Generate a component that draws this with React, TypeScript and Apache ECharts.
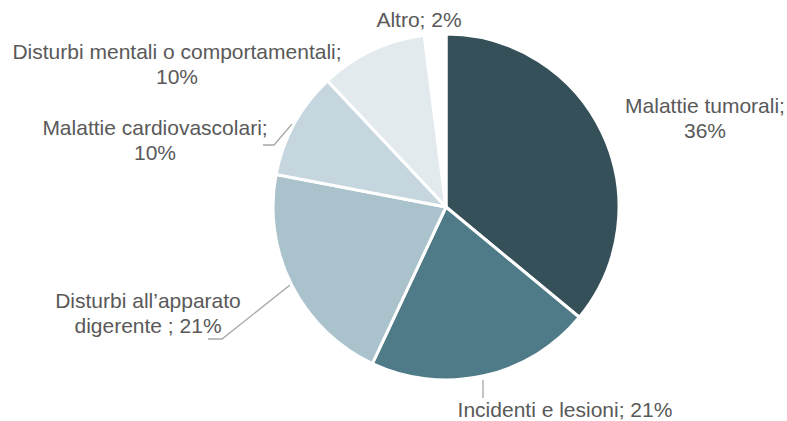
import React, { useEffect, useRef } from "react";
import * as echarts from "echarts";

const categories = [
  "Malattie tumorali",
  "Incidenti e lesioni",
  "Disturbi all’apparato digerente",
  "Malattie cardiovascolari",
  "Disturbi mentali o comportamentali",
  "Altro",
];
const values = [36, 21, 21, 10, 10, 2];
const labelTexts = [
  "Malattie tumorali;\n36%",
  "Incidenti e lesioni; 21%",
  "Disturbi all’apparato\ndigerente ; 21%",
  "Malattie cardiovascolari;\n10%",
  "Disturbi mentali o comportamentali;\n10%",
  "Altro; 2%",
];
const colors = ["#36505A", "#4F7A87", "#AAC2CC", "#C6D6DE", "#E2EAEE", "#FFFFFF"];

const labelPos: { x: number; y: number; line?: number[][] }[] = [
  { x: 705, y: 118 },
  { x: 565, y: 409, line: [[483, 380], [483, 398]] },
  { x: 148, y: 313, line: [[208, 339], [222, 339], [290, 285]] },
  { x: 155, y: 140, line: [[263, 145], [274, 145], [292, 124]] },
  { x: 177, y: 64 },
  { x: 419, y: 19 },
];

export default function App() {
  const ref = useRef<HTMLDivElement>(null);
  useEffect(() => {
    if (!ref.current) return;
    const chart = echarts.init(ref.current, null, { renderer: "svg" });
    chart.setOption({
      animation: false,
      backgroundColor: "#FFFFFF",
      series: [
        {
          type: "pie",
          center: [446, 207],
          radius: 173,
          startAngle: 90,
          clockwise: true,
          avoidLabelOverlap: false,
          itemStyle: { borderColor: "#FFFFFF", borderWidth: 3 },
          label: {
            show: true,
            color: "#595959",
            fontSize: 21,
            lineHeight: 25,
            fontFamily: "'Liberation Sans', Arial, sans-serif",
            align: "center",
            formatter: (p: any) => labelTexts[p.dataIndex],
          },
          labelLine: { show: true, lineStyle: { color: "#A6A6A6", width: 1.3 } },
          labelLayout: (p: any) => {
            const lp = labelPos[p.dataIndex];
            return {
              x: lp.x,
              y: lp.y,
              align: "center",
              verticalAlign: "middle",
              labelLinePoints: lp.line ? lp.line : [[lp.x, lp.y], [lp.x, lp.y]],
            };
          },
          emphasis: { disabled: true },
          data: categories.map((c, i) => ({
            name: c,
            value: values[i],
            itemStyle: { color: colors[i] },
            labelLine: { show: !!labelPos[i].line },
          })),
        },
      ],
    });
    return () => chart.dispose();
  }, []);
  return (
    <div
      ref={ref}
      style={{ position: "fixed", left: 0, top: 0, width: 787, height: 421 }}
    />
  );
}
